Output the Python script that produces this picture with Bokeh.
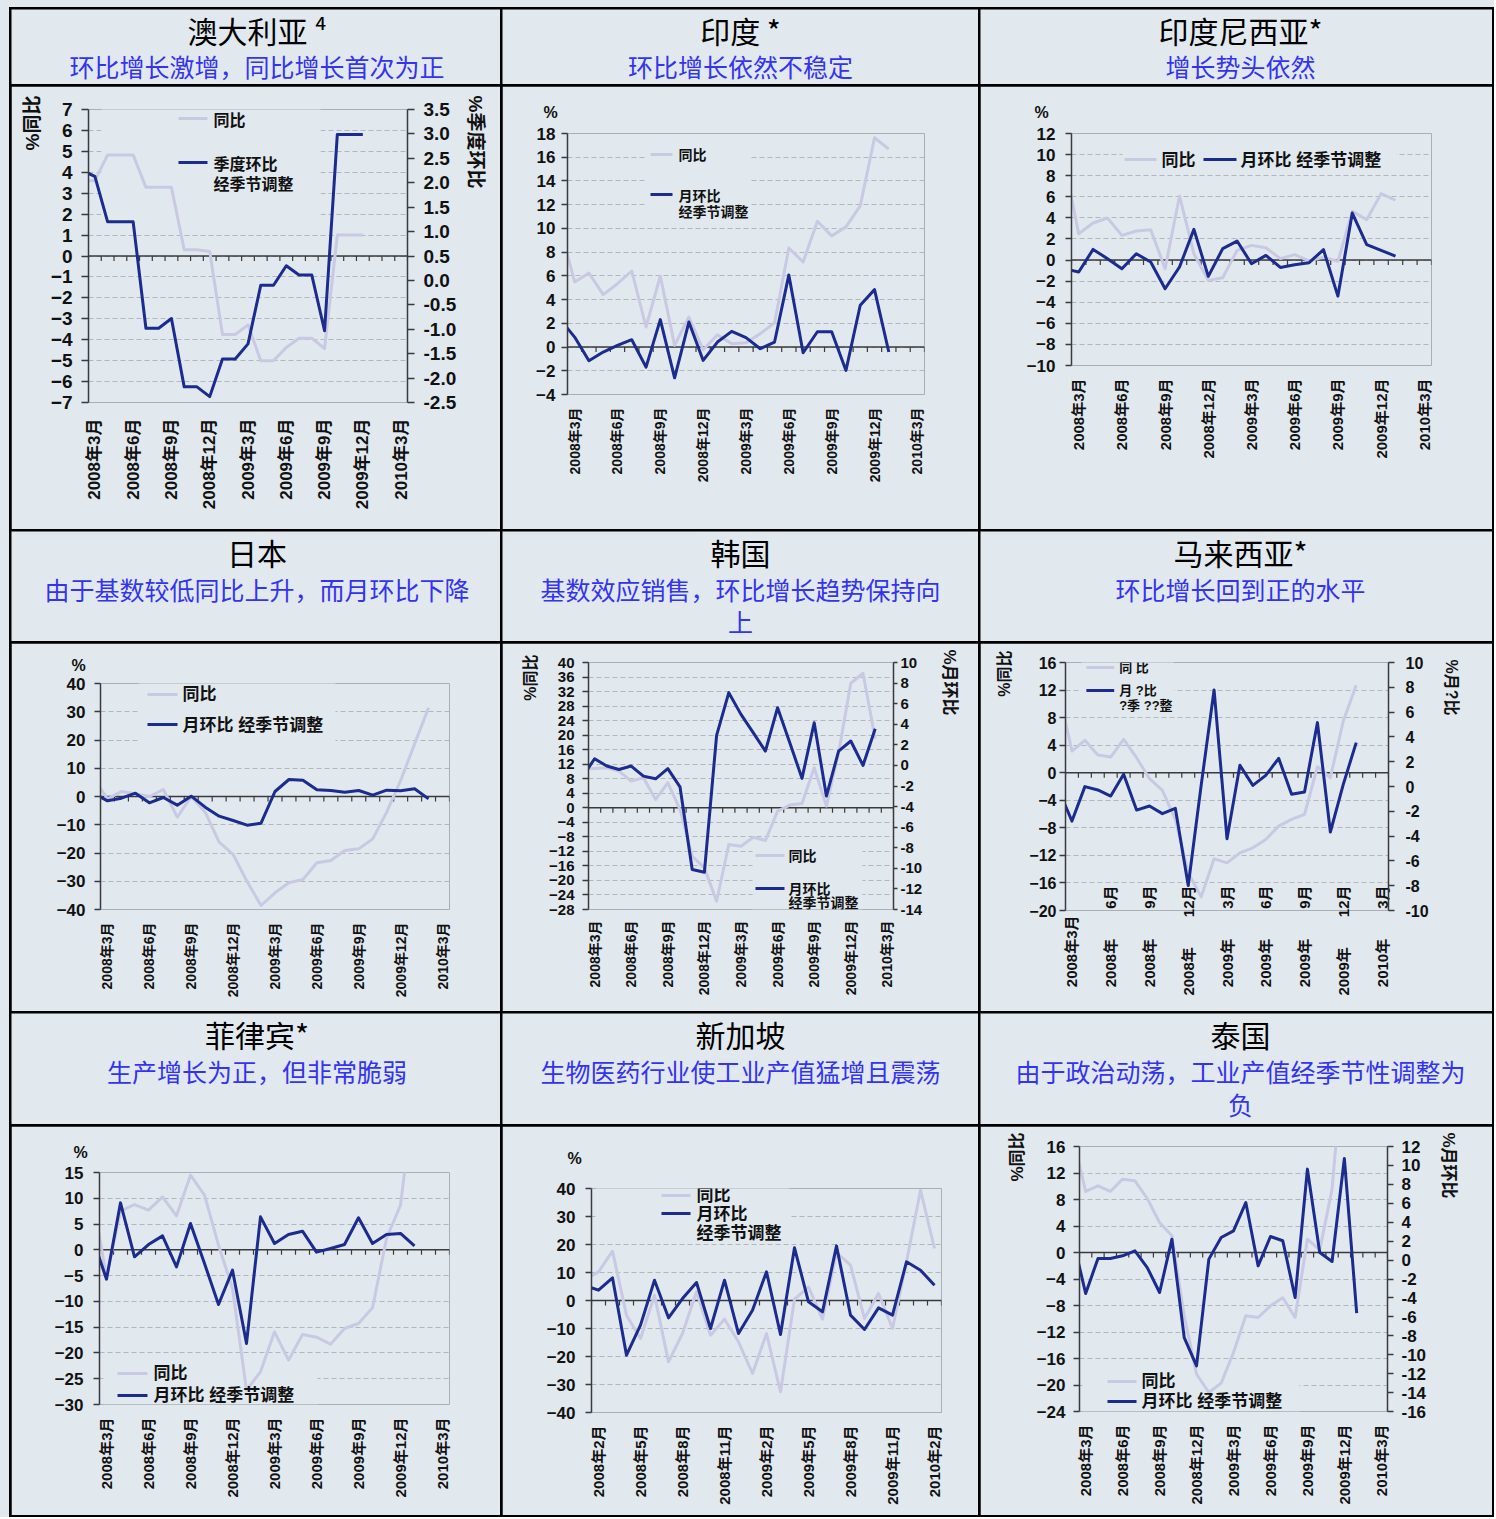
import math
from bokeh.plotting import figure
from bokeh.models import (Range1d, LinearAxis, FixedTicker, Span, Label, Title,
                          BoxAnnotation, NumeralTickFormatter)
from bokeh.layouts import row, column
from bokeh.core.properties import value
from bokeh.embed import file_html
from bokeh.resources import INLINE

# ---------------------------------------------------------------- data
months = ["2008年2月", "2008年3月", "2008年4月", "2008年5月", "2008年6月", "2008年7月",
          "2008年8月", "2008年9月", "2008年10月", "2008年11月", "2008年12月",
          "2009年1月", "2009年2月", "2009年3月", "2009年4月", "2009年5月", "2009年6月",
          "2009年7月", "2009年8月", "2009年9月", "2009年10月", "2009年11月", "2009年12月",
          "2010年1月", "2010年2月", "2010年3月"]
months_sg = ["2008年1月", "2008年2月", "2008年3月", "2008年4月", "2008年5月", "2008年6月",
             "2008年7月", "2008年8月", "2008年9月", "2008年10月", "2008年11月", "2008年12月",
             "2009年1月", "2009年2月", "2009年3月", "2009年4月", "2009年5月", "2009年6月",
             "2009年7月", "2009年8月", "2009年9月", "2009年10月", "2009年11月", "2009年12月",
             "2010年1月", "2010年2月"]

titles = ["澳大利亚 ⁴", "印度 *", "印度尼西亚*", "日本", "韩国", "马来西亚*", "菲律宾*", "新加坡", "泰国"]
subtitles = [["环比增长激增，同比增长首次为正"], ["环比增长依然不稳定"], ["增长势头依然"],
             ["由于基数较低同比上升，而月环比下降"], ["基数效应销售，环比增长趋势保持向", "上"],
             ["环比增长回到正的水平"], ["生产增长为正，但非常脆弱"],
             ["生物医药行业使工业产值猛增且震荡"], ["由于政治动荡，工业产值经季节性调整为", "负"]]

# Australia (quarterly values shown monthly)
au_yoy = [3.6, 3.6, 4.83, 4.83, 4.83, 3.28, 3.28, 3.28, 0.30, 0.30, 0.22, -3.75, -3.75,
          -3.29, -5.0, -5.0, -4.37, -3.93, -3.93, -4.42, 1.0, 1.0, 1.0]
au_qoq = [2.25, 2.13, 1.20, 1.20, 1.20, -0.98, -0.98, -0.78, -2.18, -2.18, -2.38, -1.61, -1.61,
          -1.30, -0.10, -0.10, 0.30, 0.11, 0.11, -1.03, 2.99, 2.99, 2.99]
au_ticks = [-7, -6, -5, -4, -3, -2, -1, 0, 1, 2, 3, 4, 5, 6, 7]
au_ticks_r = [-2.5, -2.0, -1.5, -1.0, -0.5, 0.0, 0.5, 1.0, 1.5, 2.0, 2.5, 3.0, 3.5]

# India
in_yoy = [10.0, 5.49, 6.24, 4.42, 5.34, 6.41, 1.69, 5.99, 0.14, 2.53, -0.23, 1.04, 0.28, 0.37,
          1.13, 2.05, 8.35, 7.17, 10.60, 9.37, 10.13, 11.90, 17.64, 16.68]
in_mom = [2.31, 0.84, -1.15, -0.42, 0.14, 0.62, -1.69, 2.31, -2.59, 2.11, -1.13, 0.42, 1.32,
          0.79, -0.14, 0.42, 6.08, -0.48, 1.29, 1.29, -1.97, 3.52, 4.84, -0.42]
in_ticks = [-4, -2, 0, 2, 4, 6, 8, 10, 12, 14, 16, 18]

# Indonesia
id_yoy = [9.3, 2.50, 3.51, 3.99, 2.34, 2.75, 2.88, -0.82, 6.08, 0.60, -1.93, -1.68, 0.92, 1.39,
          1.17, 0.13, 0.51, -0.09, 0.28, -0.13, 4.62, 3.83, 6.30, 5.67]
id_mom = [-0.82, -1.14, 1.01, 0.13, -0.82, 0.60, -0.19, -2.72, -0.66, 2.91, -1.55, 1.08, 1.80,
          -0.35, 0.44, -0.70, -0.44, -0.25, 0.98, -3.42, 4.46, 1.46, 0.92, 0.38]
id_ticks = [-10, -8, -6, -4, -2, 0, 2, 4, 6, 8, 10, 12]

# Japan
jp_yoy = [6.5, -0.83, 1.77, 0.94, 0.0, 2.48, -7.32, 0.0, -5.55, -16.17, -20.53, -30.09, -38.58,
          -34.10, -30.56, -29.38, -23.48, -22.65, -19.12, -18.53, -14.99, -5.55, 5.66, 18.64, 31.39]
jp_mom = [1.18, -1.53, -0.59, 1.18, -2.24, -0.35, -3.07, 0.12, -3.78, -6.96, -8.50, -10.15, -9.44,
          1.77, 6.02, 5.78, 2.36, 2.12, 1.53, 2.12, 0.47, 2.24, 2.01, 2.71, -0.83]
jp_ticks = [-40, -30, -20, -10, 0, 10, 20, 30, 40]

# Korea
kr_yoy = [10.7, 10.85, 11.03, 10.11, 7.35, 8.27, 2.30, 6.89, -0.46, -13.33, -16.54, -25.74,
          -10.11, -10.57, -8.09, -9.01, -0.92, 0.74, 1.19, 11.03, 0.46, 15.17, 34.28, 37.04, 19.03]
kr_mom = [-1.10, 0.65, -0.06, -0.39, -0.06, -1.04, -1.30, -0.32, -2.08, -10.12, -10.38, 2.92,
          7.07, 4.96, 3.18, 1.39, 5.61, 2.21, -1.26, 4.15, -2.98, 1.39, 2.37, 0.0, 3.57]
kr_ticks = [-28, -24, -20, -16, -12, -8, -4, 0, 4, 8, 12, 16, 20, 24, 28, 32, 36, 40]
kr_ticks_r = [-14, -12, -10, -8, -6, -4, -2, 0, 2, 4, 6, 8, 10]

# Malaysia
my_yoy = [11.5, 3.15, 4.70, 2.57, 2.28, 4.84, 2.18, -0.87, -2.57, -6.78, -14.5, -18.02, -12.50,
          -13.08, -11.63, -10.90, -9.69, -7.75, -6.78, -6.06, 0.87, -0.73, 7.51, 12.69]
my_mom = [-0.34, -2.79, -0.01, -0.28, -0.77, 0.98, -1.90, -1.57, -2.19, -1.76, -7.98, 0.09, 7.79,
          -4.21, 1.71, 0.09, 0.90, 2.27, -0.63, -0.44, 5.15, -3.67, 0.17, 3.54]
my_ticks = [-20, -16, -12, -8, -4, 0, 4, 8, 12, 16]
my_ticks_r = [-10, -8, -6, -4, -2, 0, 2, 4, 6, 8, 10]

# Philippines
ph_yoy = [10.3, -5.24, 7.50, 8.79, 7.69, 10.28, 6.59, 14.48, 10.60, 0.90, -7.50, -27.21, -23.66,
          -15.90, -21.40, -16.42, -16.94, -18.29, -15.26, -14.29, -11.25, 2.20, 8.66, 30.8]
ph_mom = [2.33, -5.69, 9.11, -1.36, 1.03, 2.71, -3.30, 5.11, -2.65, -10.60, -3.94, -18.16, 6.40,
          1.23, 2.97, 3.62, -0.45, 0.26, 1.03, 6.21, 1.23, 2.97, 3.17, 0.78]
ph_ticks = [-30, -25, -20, -15, -10, -5, 0, 5, 10, 15]

# Singapore
sg_yoy = [7.38, 10.24, 17.62, -5.24, -13.57, 1.90, -21.90, -11.79, 3.10, -12.38, -6.67, -14.76,
          -26.07, -11.79, -32.62, 0.48, 4.76, -6.67, 17.14, 12.62, -6.43, 2.50, -10.0, 13.81,
          39.40, 18.57]
sg_mom = [5.36, 3.69, 8.10, -19.52, -8.81, 7.26, -6.19, 0.71, 6.43, -10.0, 7.26, -11.79, -3.45,
          10.24, -12.14, 18.81, -0.48, -4.05, 19.52, -5.24, -10.36, -2.62, -5.24, 13.81, 10.83, 5.48]
sg_ticks = [-40, -30, -20, -10, 0, 10, 20, 30, 40]

# Thailand
th_yoy = [17.06, 9.21, 10.06, 9.21, 11.07, 10.82, 8.15, 4.53, 2.52, -9.56, -18.36, -21.13, -19.72,
          -15.09, -9.56, -9.81, -8.05, -6.84, -9.81, 2.01, 0.40, 9.56, 31.2]
th_mom = [2.03, -3.53, 0.17, 0.17, 0.45, 0.98, -0.79, -3.43, 2.21, -8.19, -11.18, 0.10, 2.38, 3.09,
          6.08, -0.61, 2.49, 2.04, -3.96, 9.61, 0.80, -0.15, 10.73, -5.61]
th_ticks = [-24, -20, -16, -12, -8, -4, 0, 4, 8, 12, 16]
th_ticks_r = [-16, -14, -12, -10, -8, -6, -4, -2, 0, 2, 4, 6, 8, 10, 12]

# ---------------------------------------------------------------- style / layout
BG = "#e1e9ef"
NAVY = "#1b2b8e"
LAV = "#c9c9e3"
SUBC = "#3434f0"
TXT = "#111111"
AX = "#3a3a3a"
GRID = "#b3b7bb"
LATIN = "Liberation Sans, Noto Sans CJK SC"
CJK = "Noto Sans CJK SC"

COL_X = [11, 502, 980]
COL_W = [489, 476, 512]
TITLE_H = [75, 110, 111]
TITLE_POS = [(20, [56]), (20, [57, 89]), (20, [57, 90])]
TITLE_CX = [245.5, 238, 260]
CHART_Y = [86, 643, 1126]
CHART_H = [443, 368, 389]


def est_w(labels, fs):
    def w(s):
        return sum(0.556 if c.isdigit() else 0.333 if c == "-" else 0.278 for c in s) * fs
    return max(w(s) for s in labels)


def fmt(v, f):
    return f"{v:.1f}" if f == "0.0" else f"{int(v)}"


def style_axis(ax, fs, tout, so):
    ax.axis_line_color = AX
    ax.axis_line_width = 1.5
    ax.major_tick_line_color = AX
    ax.major_tick_line_width = 1.5
    ax.major_tick_out = tout
    ax.major_tick_in = 0
    ax.minor_tick_line_color = None
    ax.major_label_standoff = so
    ax.major_label_text_font = LATIN
    ax.major_label_text_font_size = f"{fs}px"
    ax.major_label_text_font_style = "bold"
    ax.major_label_text_color = TXT


def title_fig(col, rw, title, subs):
    w, h = COL_W[col], TITLE_H[rw]
    p = figure(width=w, height=h, x_range=Range1d(0, w), y_range=Range1d(h, 0),
               output_backend="svg", toolbar_location=None, min_border=0,
               x_axis_type=None, y_axis_type=None, background_fill_color=BG,
               border_fill_color=BG, outline_line_color=None)
    cx = TITLE_CX[col]
    ty, sys_ = TITLE_POS[rw]
    p.text(x=[cx], y=[ty], text=[title], text_font=value(CJK), text_font_size="30px",
           text_align="center", text_baseline="middle", text_color="#000000")
    p.text(x=[cx] * len(subs), y=sys_[:len(subs)], text=subs, text_font=value(CJK),
           text_font_size="25px", text_align="center", text_baseline="middle", text_color=SUBC)
    return p


def side_title(text, fs, standoff, offset, align):
    return Title(text=text, align=align, offset=offset, standoff=max(0, int(round(standoff))),
                 text_font=LATIN, text_font_size=f"{fs}px", text_font_style="bold",
                 text_color=TXT)


def chart(col, rw, frame, cats, yoy, mom, yr, yticks, rr=None, rticks=None, rfmt="0",
          tfs=16, xfs=15, lso=8, lto=6, rso=8, rto=6, xso=13, legend=(), hide=None,
          pct=None, ltitle=None, rtitle=None, split=False):
    cx, cw = COL_X[col], COL_W[col]
    cy, chh = CHART_Y[rw], CHART_H[rw]
    fx0, fy0, fx1, fy1 = frame
    xr = (0.5, len(cats) - 0.5)
    p = figure(width=cw, height=chh, x_range=Range1d(*xr), y_range=Range1d(*yr),
               output_backend="svg", toolbar_location=None,
               min_border_left=fx0 - cx, min_border_right=cx + cw - fx1,
               min_border_top=fy0 - cy, min_border_bottom=cy + chh - fy1,
               background_fill_color=BG, border_fill_color=BG, outline_line_color=None)
    try:
        p.frame_align = False
    except Exception:
        pass

    def tx(px):
        return xr[0] + (px - fx0) / (fx1 - fx0) * (xr[1] - xr[0])

    def ty(py):
        return yr[1] - (py - fy0) / (fy1 - fy0) * (yr[1] - yr[0])

    yt = FixedTicker(ticks=yticks)
    ya = p.yaxis[0]
    ya.ticker = yt
    style_axis(ya, tfs, lto, lso)
    p.ygrid.ticker = yt
    p.ygrid.grid_line_color = GRID
    p.ygrid.grid_line_dash = "5 3"
    p.ygrid.grid_line_width = 1
    p.xgrid.visible = False

    qidx = list(range(1, len(cats), 3))
    xa = p.xaxis[0]
    xa.ticker = FixedTicker(ticks=qidx)
    if split:
        labs = {}
        for k, i in enumerate(qidx):
            if k == 0:
                labs[i] = cats[i] + "\u3000\u3000"
            else:
                yy, mm = cats[i].split("年")
                labs[i] = yy + "年\u3000\u3000" + mm
        xa.major_label_overrides = labs
    else:
        xa.major_label_overrides = {i: cats[i] for i in qidx}
    xa.major_label_orientation = math.pi / 2
    xa.axis_line_color = None
    xa.major_tick_line_color = None
    xa.minor_tick_line_color = None
    xa.major_tick_out = 0
    xa.major_tick_in = 0
    xa.major_label_standoff = xso
    xa.major_label_text_font = LATIN
    xa.major_label_text_font_size = f"{xfs}px"
    xa.major_label_text_font_style = "bold"
    xa.major_label_text_color = TXT

    lw = lto + lso + est_w([fmt(v, "0") for v in yticks], tfs)
    if ltitle:
        t, xc, ytop, fs = ltitle
        p.add_layout(side_title(t, fs, (fx0 - lw) - xc - 0.6 * fs, -(fy0 - ytop), "right"), "left")

    if rr is not None:
        p.extra_y_ranges = {"r": Range1d(*rr)}
        ra = LinearAxis(y_range_name="r", ticker=FixedTicker(ticks=rticks),
                        formatter=NumeralTickFormatter(format=rfmt))
        style_axis(ra, tfs, rto, rso)
        p.add_layout(ra, "right")
        rw_ = rto + rso + est_w([fmt(v, rfmt) for v in rticks], tfs)
        if rtitle:
            t, xc, ytop, fs = rtitle
            so = xc - (fx1 + rw_) - 0.6 * fs
            p.add_layout(side_title(t, fs, so, -(fy0 - ytop), "left"), "right")
    if pct:
        px_, py_ = pct
        p.add_layout(side_title("%", 16, fy0 - py_, px_ - 7 - fx0, "left"), "above")

    if hide:
        hx0, hy0, hx1, hy1 = hide
        p.add_layout(BoxAnnotation(left=tx(hx0), right=tx(hx1), top=ty(hy0), bottom=ty(hy1),
                                   fill_color=BG, fill_alpha=1.0, line_color=None,
                                   level="underlay"))
    p.add_layout(Span(location=0, dimension="width", line_color=AX, line_width=1.5,
                      level="underlay"))
    bnd = [i + 0.5 for i in range(len(cats))]
    tl = 5 * (yr[1] - yr[0]) / (fy1 - fy0)
    p.segment(x0=bnd, y0=[0] * len(bnd), x1=bnd, y1=[-tl] * len(bnd),
              line_color=AX, line_width=1.2)

    p.line(x=list(range(len(yoy))), y=yoy, line_color=LAV, line_width=3, line_join="round")
    p.line(x=list(range(len(mom))), y=mom, line_color=NAVY, line_width=3, line_join="round",
           y_range_name="r" if rr is not None else "default")

    for colr, (lx0, lx1, ly), texts, fs in legend:
        p.add_layout(BoxAnnotation(left=tx(lx0), right=tx(lx1), top=ty(ly - 1.5),
                                   bottom=ty(ly + 1.5), fill_color=colr, fill_alpha=1.0,
                                   line_color=None))
        for (px, py, t) in texts:
            p.add_layout(Label(x=tx(px), y=ty(py), text=t, text_font=LATIN,
                               text_font_size=f"{fs}px", text_font_style="bold",
                               text_color=TXT, text_align="left", text_baseline="middle"))
    return p


charts = [
    chart(0, 0, (88, 109, 407, 402), months, au_yoy, au_qoq, (-7, 7), au_ticks,
          rr=(-2.5, 3.5), rticks=au_ticks_r, rfmt="0.0", tfs=19, xfs=17, lso=9, lto=7,
          rso=9, rto=7, xso=16,
          legend=[(LAV, (178, 207, 118), [(213, 120, "同比")], 16),
                  (NAVY, (178, 207, 162), [(213, 164, "季度环比"), (213, 184, "经季节调整")], 16)],
          hide=(101, 105, 320, 218),
          ltitle=("%同比", 34, 95, 19), rtitle=("%季度环比", 477, 95, 19)),
    chart(1, 0, (567, 133, 924, 394), months, in_yoy, in_mom, (-4, 18), in_ticks,
          tfs=17, xfs=14, lso=6, lto=6,
          legend=[(LAV, (650, 672, 154), [(678, 154, "同比")], 14),
                  (NAVY, (650, 672, 194), [(678, 195, "月环比"), (678, 211, "经季节调整")], 14)],
          hide=(645, 145, 750, 218), pct=(550, 108)),
    chart(2, 0, (1071, 133, 1431, 365), months, id_yoy, id_mom, (-10, 12), id_ticks,
          tfs=17, xfs=15, lso=10,
          legend=[(LAV, (1124, 1156, 159), [(1161, 160, "同比")], 17),
                  (NAVY, (1203, 1236, 159), [(1240, 160, "月环比 经季节调整")], 17)],
          hide=(1122, 148, 1396, 170), pct=(1041, 108)),
    chart(0, 1, (100, 683, 449, 909), months, jp_yoy, jp_mom, (-40, 40), jp_ticks,
          tfs=17, xfs=14, lso=9,
          legend=[(LAV, (147, 177, 694), [(182, 694, "同比")], 17),
                  (NAVY, (147, 177, 724), [(182, 725, "月环比 经季节调整")], 17)],
          hide=(138, 679, 335, 742), pct=(78, 663)),
    chart(1, 1, (588, 662, 893, 909), months, kr_yoy, kr_mom, (-28, 40), kr_ticks,
          rr=(-14, 10), rticks=kr_ticks_r, tfs=15, xfs=14, lso=8, lto=6, rso=3, rto=4, xso=11,
          legend=[(LAV, (755, 784, 855), [(788, 855, "同比")], 14),
                  (NAVY, (755, 784, 888), [(788, 888, "月环比"), (788, 902, "经季节调整")], 14)],
          hide=(752, 849, 862, 909),
          ltitle=("%同比", 527, 654, 16), rtitle=("%月环比", 960, 649, 17)),
    chart(2, 1, (1063, 662, 1388, 910), months, my_yoy, my_mom, (-20, 16), my_ticks,
          rr=(-10, 10), rticks=my_ticks_r, tfs=16, xfs=15, lso=3, lto=6, rso=11, rto=6,
          xso=-25,
          legend=[(LAV, (1084, 1112, 667), [(1117, 667, "同 比")], 13),
                  (NAVY, (1084, 1112, 690), [(1117, 690, "月 ?比"), (1117, 705, "?季 ??整")], 13)],
          hide=(1079, 650, 1172, 712),
          ltitle=("%同比", 994, 650, 16), rtitle=("%月?比", 1461, 659, 16), split=True),
    chart(0, 2, (99, 1172, 449, 1404), months, ph_yoy, ph_mom, (-30, 15), ph_ticks,
          tfs=17, xfs=15, lso=10,
          legend=[(LAV, (117, 147, 1373), [(153, 1373, "同比")], 17),
                  (NAVY, (117, 147, 1395), [(153, 1395, "月环比 经季节调整")], 17)],
          hide=(103, 1362, 317, 1404), pct=(80, 1148)),
    chart(1, 2, (591, 1188, 941, 1412), months_sg, sg_yoy, sg_mom, (-40, 40), sg_ticks,
          tfs=17, xfs=15, lso=10,
          legend=[(LAV, (661, 690, 1195), [(696, 1195, "同比")], 17),
                  (NAVY, (661, 690, 1213), [(696, 1214, "月环比"), (696, 1233, "经季节调整")], 17)],
          hide=(595, 1186, 789, 1242), pct=(574, 1145)),
    chart(2, 2, (1079, 1146, 1387, 1411), months, th_yoy, th_mom, (-24, 16), th_ticks,
          rr=(-16, 12), rticks=th_ticks_r, tfs=17, xfs=15, lso=8, rso=8,
          legend=[(LAV, (1107, 1136, 1381), [(1141, 1381, "同比")], 17),
                  (NAVY, (1107, 1136, 1401), [(1141, 1401, "月环比 经季节调整")], 17)],
          hide=(1082, 1372, 1299, 1411),
          ltitle=("%同比", 1016, 1132, 17), rtitle=("%月环比", 1455, 1132, 17)),
]

heads = [title_fig(k % 3, k // 3, titles[k], subtitles[k]) for k in range(9)]

rows = []
for r in range(3):
    rows.append(row(*heads[3 * r:3 * r + 3], spacing=2))
    rows.append(row(*charts[3 * r:3 * r + 3], spacing=2))
grid = column(*rows, spacing=2, styles={"background-color": "#000000", "padding": "2px"})
page = column(grid, styles={"background-color": BG, "padding": "7px 0px 0px 9px"})

html = file_html(page, INLINE, title="亚洲零售与工业产值")
html = html.replace("<body>", '<body style="background-color:#e1e9ef;">', 1)
open("out.html", "w").write(html)
